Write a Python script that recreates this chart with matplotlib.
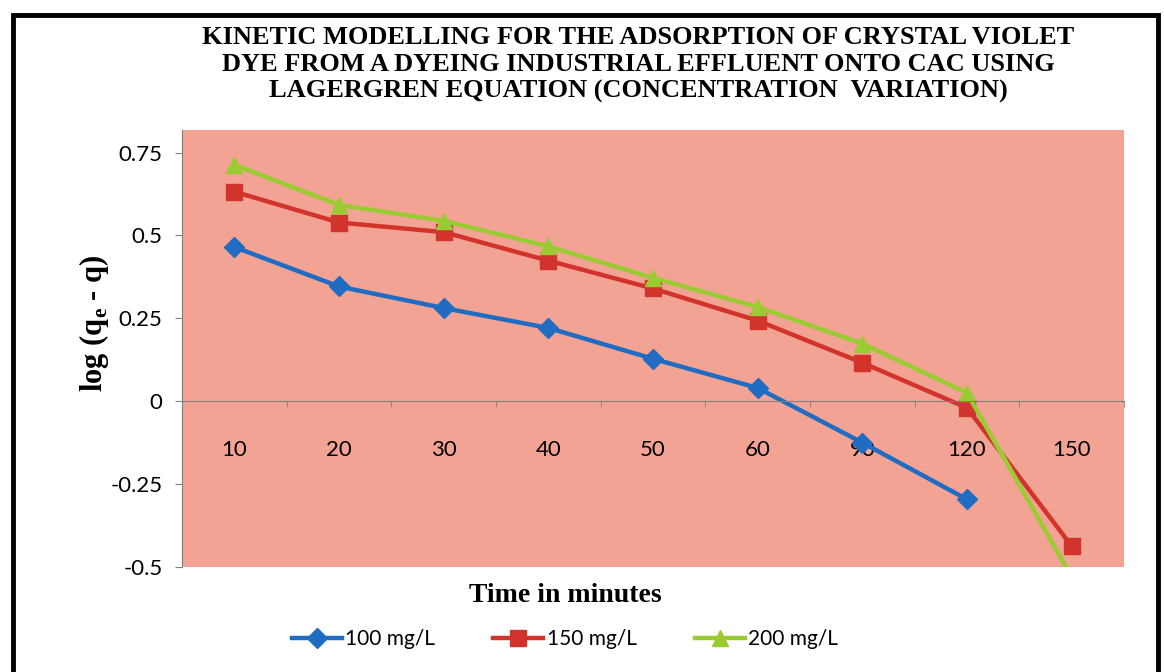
import numpy as np
import matplotlib.pyplot as plt
from matplotlib.patches import Rectangle

# data
times = ["10", "20", "30", "40", "50", "60", "90", "120", "150"]
c100 = [0.465, 0.346, 0.281, 0.221, 0.128, 0.040, -0.125, -0.296, np.nan]
c150 = [0.632, 0.539, 0.510, 0.424, 0.340, 0.243, 0.116, -0.020, -0.437]
c200 = [0.713, 0.592, 0.544, 0.467, 0.372, 0.284, 0.174, 0.025, -0.53]
yticks = [-0.5, -0.25, 0, 0.25, 0.5, 0.75]
ytick_labels = ["-0.5", "-0.25", "0", "0.25", "0.5", "0.75"]

plt.rcParams['mathtext.fontset'] = 'custom'
plt.rcParams['mathtext.bf'] = 'Liberation Serif:bold'
plt.rcParams['mathtext.rm'] = 'Liberation Serif:bold'

W, H = 1164, 672
fig = plt.figure(figsize=(W / 100, H / 100), dpi=100)
fig.patch.set_facecolor("white")
ax = fig.add_axes([182 / W, 1 - 567 / H, (1124 - 182) / W, (567 - 130) / H])
ax.set_facecolor("#F3A394")

x = np.arange(len(times))
ax.plot(x, c100, color="#1F6CC2", lw=3.2, marker="D", ms=10, label="100 mg/L")
ax.plot(x, c150, color="#D2332A", lw=3.2, marker="s", ms=12, label="150 mg/L")
ax.plot(x, c200, color="#9ACB33", lw=3.2, marker="^", ms=12, label="200 mg/L")

ax.set_xlim(-0.5, len(times) - 0.5)
ax.set_ylim(-0.5, 0.818)

# category axis crosses at zero
ax.spines['bottom'].set_position(('data', 0))
for s in ['top', 'right']:
    ax.spines[s].set_visible(False)
ax.spines['bottom'].set_color("#7f7f7f")
ax.spines['left'].set_color("#7f7f7f")

ax.set_xticks(x)
ax.set_xticklabels(times, fontsize=16, fontfamily="Lato")
ax.tick_params(axis='x', which='major', length=0, pad=28)
ax.set_xticks(np.arange(-0.5, len(times)), minor=True)
ax.tick_params(axis='x', which='minor', length=4, direction='out', color="#7f7f7f")

ax.set_yticks(yticks)
ax.set_yticklabels(ytick_labels, fontsize=16, fontfamily="Lato")
ax.tick_params(axis='y', length=5, direction='out', color="#7f7f7f", pad=9)

fig.text(638 / W, 1 - 26 / H,
         "KINETIC MODELLING FOR THE ADSORPTION OF CRYSTAL VIOLET\n"
         "DYE FROM A DYEING INDUSTRIAL EFFLUENT ONTO CAC USING\n"
         "LAGERGREN EQUATION (CONCENTRATION  VARIATION)",
         ha="center", va="top", fontsize=19, fontweight="bold",
         fontfamily="Liberation Serif", linespacing=1.2)

fig.text(94 / W, 1 - 323 / H, r"log (q$_{\mathbf{e}}$ - q)", rotation=90,
         ha="center", va="center", fontsize=22, fontweight="bold",
         fontfamily="Liberation Serif")

fig.text(565 / W, 1 - 595 / H, "Time in minutes", ha="center", va="center",
         fontsize=20, fontweight="bold", fontfamily="Liberation Serif")

leg = ax.legend(loc="center", bbox_to_anchor=(565 / W, 1 - 639 / H),
                bbox_transform=fig.transFigure, ncol=3, frameon=False,
                prop={"family": "Lato", "size": 15}, handlelength=2.4,
                columnspacing=2.8, handletextpad=0.15, markerscale=1.0)

fig.patches.append(Rectangle((13 / W, -0.05), (1158 - 13) / W, 1.05 - 15 / H,
                             transform=fig.transFigure, fill=False,
                             edgecolor="black", lw=3.5))

fig.savefig("out.png", dpi=100)
